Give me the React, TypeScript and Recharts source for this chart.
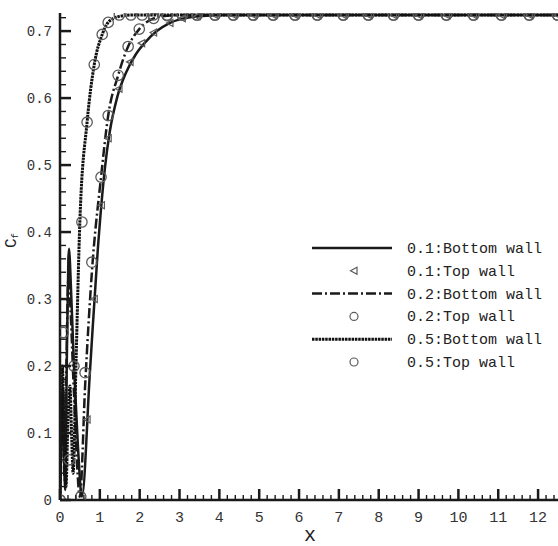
import React from 'react';
import { ComposedChart, Line, Scatter, XAxis, YAxis, Legend } from 'recharts';

// ---- data ----
const bottom01 = [
  { x: 0, y: 0.0 }, { x: 0.04, y: 0.1 }, { x: 0.07, y: 0.17 }, { x: 0.1, y: 0.08 }, { x: 0.13, y: 0.015 },
  { x: 0.17, y: 0.2 }, { x: 0.21, y: 0.36 }, { x: 0.23, y: 0.375 }, { x: 0.26, y: 0.34 }, { x: 0.35, y: 0.2 },
  { x: 0.45, y: 0.08 }, { x: 0.55, y: 0.005 }, { x: 0.75, y: 0.19 }, { x: 0.95, y: 0.375 }, { x: 1.13, y: 0.497 },
  { x: 1.25, y: 0.55 }, { x: 1.43, y: 0.6 }, { x: 1.65, y: 0.637 }, { x: 1.9, y: 0.665 }, { x: 2.15, y: 0.684 },
  { x: 2.43, y: 0.7 }, { x: 2.75, y: 0.712 }, { x: 3.1, y: 0.719 }, { x: 3.5, y: 0.722 }, { x: 4.0, y: 0.724 },
  { x: 12.5, y: 0.724 },
];
const top01 = [
  { x: 0.68, y: 0.12 }, { x: 0.86, y: 0.3 }, { x: 1.04, y: 0.44 }, { x: 1.21, y: 0.54 }, { x: 1.48, y: 0.614 },
  { x: 1.76, y: 0.654 }, { x: 2.05, y: 0.682 }, { x: 2.35, y: 0.698 }, { x: 2.76, y: 0.712 }, { x: 3.07, y: 0.719 },
  { x: 3.44, y: 0.722 }, { x: 3.89, y: 0.724 }, { x: 4.35, y: 0.724 }, { x: 4.85, y: 0.724 }, { x: 5.35, y: 0.724 },
  { x: 5.9, y: 0.724 }, { x: 6.46, y: 0.724 }, { x: 7.11, y: 0.724 }, { x: 7.74, y: 0.724 }, { x: 8.37, y: 0.724 },
  { x: 9.0, y: 0.724 }, { x: 9.7, y: 0.724 }, { x: 10.38, y: 0.724 }, { x: 11.08, y: 0.724 }, { x: 11.78, y: 0.724 },
  { x: 12.49, y: 0.724 },
];
const bottom02 = [
  { x: 0, y: 0.0 }, { x: 0.04, y: 0.1 }, { x: 0.07, y: 0.16 }, { x: 0.11, y: 0.03 }, { x: 0.16, y: 0.2 },
  { x: 0.21, y: 0.33 }, { x: 0.25, y: 0.3 }, { x: 0.35, y: 0.16 }, { x: 0.5, y: 0.005 }, { x: 0.63, y: 0.17 },
  { x: 0.8, y: 0.34 }, { x: 1.03, y: 0.482 }, { x: 1.21, y: 0.574 }, { x: 1.46, y: 0.634 }, { x: 1.71, y: 0.677 },
  { x: 1.99, y: 0.703 }, { x: 2.35, y: 0.719 }, { x: 2.69, y: 0.723 }, { x: 3.1, y: 0.724 }, { x: 12.5, y: 0.724 },
];
const top02 = [
  { x: 0, y: 0.0 }, { x: 0.52, y: 0.005 }, { x: 0.63, y: 0.19 }, { x: 0.8, y: 0.355 }, { x: 1.03, y: 0.482 },
  { x: 1.21, y: 0.574 }, { x: 1.46, y: 0.634 }, { x: 1.71, y: 0.677 }, { x: 1.99, y: 0.703 }, { x: 2.35, y: 0.719 },
  { x: 2.69, y: 0.723 }, { x: 3.07, y: 0.724 }, { x: 3.44, y: 0.724 }, { x: 3.89, y: 0.724 }, { x: 4.35, y: 0.724 },
  { x: 4.85, y: 0.724 }, { x: 5.35, y: 0.724 }, { x: 5.9, y: 0.724 }, { x: 6.46, y: 0.724 }, { x: 7.11, y: 0.724 },
  { x: 7.74, y: 0.724 }, { x: 8.37, y: 0.724 }, { x: 9.0, y: 0.724 }, { x: 9.7, y: 0.724 }, { x: 10.38, y: 0.724 },
  { x: 11.08, y: 0.724 }, { x: 11.78, y: 0.724 }, { x: 12.49, y: 0.724 },
];
const bottom05 = [
  { x: 0, y: 0.0 }, { x: 0.03, y: 0.12 }, { x: 0.06, y: 0.2 }, { x: 0.1, y: 0.1 }, { x: 0.15, y: 0.02 },
  { x: 0.2, y: 0.12 }, { x: 0.25, y: 0.17 }, { x: 0.29, y: 0.1 }, { x: 0.33, y: 0.04 }, { x: 0.4, y: 0.2 },
  { x: 0.5, y: 0.418 }, { x: 0.68, y: 0.564 }, { x: 0.86, y: 0.65 }, { x: 1.06, y: 0.695 }, { x: 1.21, y: 0.713 },
  { x: 1.49, y: 0.722 }, { x: 1.8, y: 0.724 }, { x: 12.5, y: 0.724 },
];
const top05 = [
  { x: 0, y: 0.0 }, { x: 0.08, y: 0.25 }, { x: 0.23, y: 0.06 }, { x: 0.35, y: 0.2 }, { x: 0.55, y: 0.415 },
  { x: 0.68, y: 0.564 }, { x: 0.86, y: 0.65 }, { x: 1.06, y: 0.695 }, { x: 1.21, y: 0.713 }, { x: 1.49, y: 0.724 },
  { x: 1.78, y: 0.724 }, { x: 2.06, y: 0.724 }, { x: 2.34, y: 0.724 }, { x: 2.69, y: 0.724 }, { x: 3.07, y: 0.724 },
  { x: 3.44, y: 0.724 }, { x: 3.89, y: 0.724 }, { x: 4.35, y: 0.724 }, { x: 4.85, y: 0.724 }, { x: 5.35, y: 0.724 },
  { x: 5.9, y: 0.724 }, { x: 6.46, y: 0.724 }, { x: 7.11, y: 0.724 }, { x: 7.74, y: 0.724 }, { x: 8.37, y: 0.724 },
  { x: 9.0, y: 0.724 }, { x: 9.7, y: 0.724 }, { x: 10.38, y: 0.724 }, { x: 11.08, y: 0.724 }, { x: 11.78, y: 0.724 },
  { x: 12.49, y: 0.724 },
];

const yMajor = [0, 0.1, 0.2, 0.3, 0.4, 0.5, 0.6, 0.7];
const yLabels = ['0', '0.1', '0.2', '0.3', '0.4', '0.5', '0.6', '0.7'];
const xMajor = [0, 1, 2, 3, 4, 5, 6, 7, 8, 9, 10, 11, 12];
const xLabels = ['0', '1', '2', '3', '4', '5', '6', '7', '8', '9', '10', '11', '12'];
const legendLabels = ['0.1:Bottom wall', '0.1:Top wall', '0.2:Bottom wall', '0.2:Top wall', '0.5:Bottom wall', '0.5:Top wall'];

// minor ticks: 4 subdivisions between majors
const subdivide = (majors: number[], step: number) => {
  const out: number[] = [];
  majors.forEach((m) => {
    for (let k = 0; k < 5; k++) out.push(Math.round((m + (k * step) / 5) * 1000) / 1000);
  });
  return out;
};
const yTicks = subdivide(yMajor.slice(0, -1), 0.1).concat([0.7, 0.72]);
const xTicks = subdivide(xMajor.slice(0, -1), 1).concat([12, 12.2, 12.4]);

const FONT = '"Liberation Mono", "Courier New", monospace';
const INK = '#1a1a1a';
const MARK = '#5a5a5a';

const isMajor = (v: number, majors: number[]) => majors.some((m) => Math.abs(m - v) < 1e-6);

const YTick = (props: any) => {
  const v = props.payload.value;
  const y = props.y;
  const maj = isMajor(v, yMajor);
  const idx = yMajor.findIndex((m) => Math.abs(m - v) < 1e-6);
  return (
    <g>
      <line x1={60} x2={maj ? 71 : 66} y1={y} y2={y} stroke={INK} strokeWidth={maj ? 2.5 : 1.4} />
      {maj && (
        <text x={52} y={y + 5} textAnchor="end" fontFamily={FONT} fontSize={14} fill="#333">
          {yLabels[idx]}
        </text>
      )}
    </g>
  );
};

const XTick = (props: any) => {
  const v = props.payload.value;
  const x = props.x;
  const maj = isMajor(v, xMajor);
  const idx = xMajor.findIndex((m) => Math.abs(m - v) < 1e-6);
  return (
    <g>
      <line x1={x} x2={x} y1={500} y2={maj ? 489 : 495} stroke={INK} strokeWidth={maj ? 2.5 : 1.4} />
      {maj && (
        <text x={x} y={522} textAnchor="middle" fontFamily={FONT} fontSize={15} fill="#333">
          {xLabels[idx]}
        </text>
      )}
    </g>
  );
};

const Circle = (props: any) => {
  const { cx, cy } = props;
  if (cx == null || cy == null) return <g />;
  return <circle cx={cx} cy={cy} r={5.2} fill="none" stroke={MARK} strokeWidth={1.3} />;
};
const Tri = (props: any) => {
  const { cx, cy } = props;
  if (cx == null || cy == null) return <g />;
  return (
    <polygon
      points={`${cx - 3.5},${cy} ${cx + 3},${cy - 3.5} ${cx + 3},${cy + 3.5}`}
      fill="none"
      stroke={MARK}
      strokeWidth={1.2}
    />
  );
};

const LegendBox = () => {
  const rowY = (i: number) => 12 + i * 22.8;
  return (
    <svg width={258} height={140} style={{ display: 'block' }}>
      {legendLabels.map((t, i) => (
        <text key={t} x={107} y={rowY(i) + 5} fontFamily={FONT} fontSize={15} fill="#222">
          {t}
        </text>
      ))}
      <line x1={12} x2={92} y1={rowY(0)} y2={rowY(0)} stroke={INK} strokeWidth={2.5} />
      <polygon points={`${50.5},${rowY(1)} ${57},${rowY(1) - 3.5} ${57},${rowY(1) + 3.5}`} fill="none" stroke={MARK} strokeWidth={1.2} />
      <line x1={12} x2={92} y1={rowY(2)} y2={rowY(2)} stroke={INK} strokeWidth={2.5} strokeDasharray="10 3 2 3" />
      <circle cx={54} cy={rowY(3)} r={4} fill="none" stroke={MARK} strokeWidth={1.2} />
      <line x1={12} x2={92} y1={rowY(4)} y2={rowY(4)} stroke="#111" strokeWidth={3} strokeDasharray="2.5 0.8" />
      <circle cx={54} cy={rowY(5)} r={4} fill="none" stroke={MARK} strokeWidth={1.2} />
    </svg>
  );
};

const YLabel = () => (
  <text transform="translate(16,248) rotate(-90)" fontFamily={FONT} fontSize={16} fill="#222">
    <tspan>C</tspan>
    <tspan fontSize={9} dy={2}>f</tspan>
  </text>
);
const XLabel = () => (
  <text x={310} y={541} textAnchor="middle" fontFamily={FONT} fontSize={20} fill="#222">
    x
  </text>
);

export default function App() {
  return (
    <div style={{ position: 'absolute', left: 0, top: 0, width: 558, height: 546, background: '#fff' }}>
      <ComposedChart width={558} height={546} margin={{ top: 13, right: 0, bottom: 0, left: 0 }}>
        <XAxis
          dataKey="x"
          type="number"
          domain={[0, 12.5]}
          ticks={xTicks}
          interval={0}
          tick={<XTick />}
          tickLine={false}
          axisLine={{ stroke: INK, strokeWidth: 2.5 }}
          height={46}
          allowDataOverflow
          label={{ content: <XLabel /> } as any}
        />
        <YAxis
          dataKey="y"
          type="number"
          domain={[0, 0.727]}
          ticks={yTicks}
          interval={0}
          tick={<YTick />}
          tickLine={false}
          axisLine={{ stroke: INK, strokeWidth: 2.5 }}
          width={60}
          allowDataOverflow
          label={{ content: <YLabel /> } as any}
        />
        <Legend
          layout="vertical"
          align="center"
          verticalAlign="middle"
          content={<LegendBox />}
          wrapperStyle={{ left: 300, top: 236, width: 258, height: 140 }}
        />
        <Line data={bottom01} dataKey="y" type="monotone" stroke={INK} strokeWidth={2.5} dot={false} isAnimationActive={false} />
        <Line data={bottom02} dataKey="y" type="monotone" stroke={INK} strokeWidth={2.5} strokeDasharray="10 3 2 3" dot={false} isAnimationActive={false} />
        <Line data={bottom05} dataKey="y" type="monotone" stroke="#111" strokeWidth={3} strokeDasharray="2.5 0.8" dot={false} isAnimationActive={false} />
        <Scatter data={top01} dataKey="y" shape={<Tri />} isAnimationActive={false} />
        <Scatter data={top02} dataKey="y" shape={<Circle />} isAnimationActive={false} />
        <Scatter data={top05} dataKey="y" shape={<Circle />} isAnimationActive={false} />
      </ComposedChart>
    </div>
  );
}
